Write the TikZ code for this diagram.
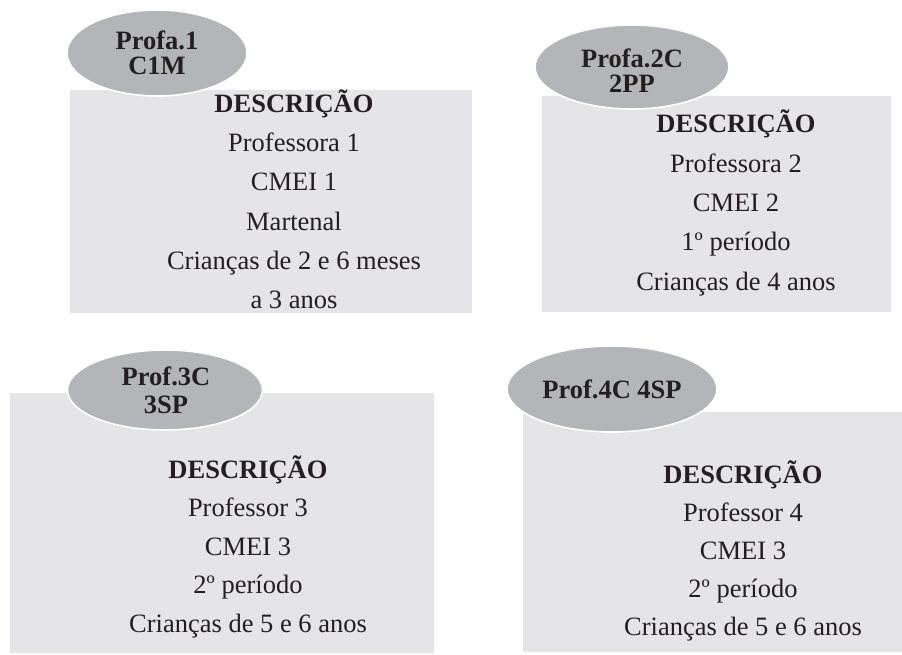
\documentclass[tikz,border=0pt]{standalone}
\usepackage{fontspec}
\setmainfont{Liberation Serif}
\usetikzlibrary{shapes.geometric}
\definecolor{boxgray}{RGB}{229,229,231}
\definecolor{ovalgray}{RGB}{180,181,184}
\definecolor{ink}{RGB}{35,31,32}
\begin{document}
\begin{tikzpicture}[x=1pt,y=-1pt,
  panel/.style={fill=boxgray, draw=none, inner sep=0, anchor=north west},
  oval/.style={ellipse, fill=ovalgray, draw=white, line width=1.6pt, inner sep=0},
  txtline/.style={anchor=base, inner sep=0, text=ink, font=\fontsize{26.5}{30}\selectfont},
  headline/.style={txtline, font=\fontsize{26.5}{30}\selectfont\bfseries},
  tag/.style={anchor=base, inner sep=0, text=ink, font=\fontsize{26.5}{30}\selectfont\bfseries}]
\useasboundingbox (0,0) rectangle (902,655);

% description panels
\node[panel, minimum width=402pt, minimum height=223pt] (b1) at (70,90) {};
\node[panel, minimum width=349pt, minimum height=216pt] (b2) at (542,96) {};
\node[panel, minimum width=424pt, minimum height=260pt] (b3) at (10,393) {};
\node[panel, minimum width=379pt, minimum height=240pt] (b4) at (523,412) {};

% header ovals
\node[oval, minimum width=180pt, minimum height=86pt] (e1) at (157,53) {};
\node[oval, minimum width=194pt, minimum height=84pt] (e2) at (632,67) {};
\node[oval, minimum width=195pt, minimum height=80pt] (e3) at (165,390) {};
\node[oval, minimum width=210pt, minimum height=86pt] (e4) at (612,389) {};

% oval labels
\node[tag] (t1a) at (157,50) {Profa.1};
\node[tag] (t1b) at (157,75) {C1M};
\node[tag] (t2a) at (632,68) {Profa.2C};
\node[tag] (t2b) at (632,93) {2PP};
\node[tag] (t3a) at (166,385) {Prof.3C};
\node[tag] (t3b) at (166,413) {3SP};
\node[tag] (t4a) at (612,398) {Prof.4C 4SP};

% panel 1
\node[headline] (h1) at (294,113) {DESCRIÇÃO};
\foreach [count=\i] \t in {Professora 1, CMEI 1, Martenal, Crianças de 2 e 6 meses, a 3 anos}
  \node[txtline] (b1l\i) at (294,{113+39*\i}) {\t};

% panel 2
\node[headline] (h2) at (736,133) {DESCRIÇÃO};
\foreach [count=\i] \t in {Professora 2, CMEI 2, 1º período, Crianças de 4 anos}
  \node[txtline] (b2l\i) at (736,{133+39.25*\i}) {\t};

% panel 3
\node[headline] (h3) at (248,478) {DESCRIÇÃO};
\foreach [count=\i] \t in {Professor 3, CMEI 3, 2º período, Crianças de 5 e 6 anos}
  \node[txtline] (b3l\i) at (248,{478+38.5*\i}) {\t};

% panel 4
\node[headline] (h4) at (743,483) {DESCRIÇÃO};
\foreach [count=\i] \t in {Professor 4, CMEI 3, 2º período, Crianças de 5 e 6 anos}
  \node[txtline] (b4l\i) at (743,{483+38*\i}) {\t};
\end{tikzpicture}
\end{document}
